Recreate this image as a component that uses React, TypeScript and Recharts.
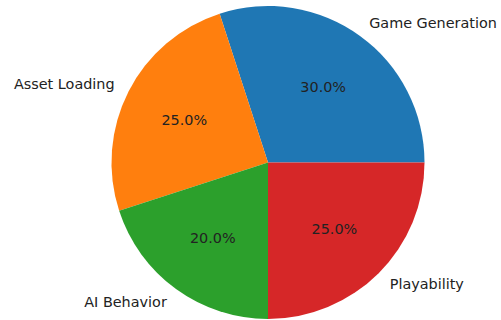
import React from "react";
import { PieChart, Pie, Cell } from "recharts";

const categories = ["Game Generation", "Asset Loading", "AI Behavior", "Playability"];
const values = [30, 25, 20, 25];
const colors = ["#1f77b4", "#ff7f0e", "#2ca02c", "#d62728"];

const data = categories.map((name, i) => ({ name, value: values[i] }));

const RADIAN = Math.PI / 180;
const FONT = "'DejaVu Sans', sans-serif";
const FS = 14.4;

const renderLabel = (props: any) => {
  const { cx, cy, midAngle, outerRadius, name, percent } = props;
  const cos = Math.cos(-midAngle * RADIAN);
  const sin = Math.sin(-midAngle * RADIAN);
  const ox = cx + outerRadius * 1.1 * cos;
  const oy = cy + outerRadius * 1.1 * sin;
  const ix = cx + outerRadius * 0.6 * cos;
  const iy = cy + outerRadius * 0.6 * sin;
  return (
    <g>
      <text
        x={ox}
        y={oy}
        textAnchor={cos >= 0 ? "start" : "end"}
        dominantBaseline="central"
        fontFamily={FONT}
        fontSize={FS}
        fill="#222"
      >
        {name}
      </text>
      <text
        x={ix}
        y={iy}
        textAnchor="middle"
        dominantBaseline="central"
        fontFamily={FONT}
        fontSize={FS}
        fill="#222"
      >
        {(percent * 100).toFixed(1) + "%"}
      </text>
    </g>
  );
};

export default function App() {
  return (
    <div style={{ position: "absolute", left: 0, top: 0, width: 501, height: 320, background: "#fff" }}>
      <PieChart width={501} height={320} margin={{ top: 0, right: 0, bottom: 0, left: 0 }}>
        <Pie
          data={data}
          dataKey="value"
          nameKey="name"
          cx={268}
          cy={162.5}
          outerRadius={156.5}
          startAngle={0}
          endAngle={360}
          stroke="none"
          label={renderLabel}
          labelLine={false}
          isAnimationActive={false}
        >
          {data.map((d, i) => (
            <Cell key={d.name} fill={colors[i]} />
          ))}
        </Pie>
      </PieChart>
    </div>
  );
}
